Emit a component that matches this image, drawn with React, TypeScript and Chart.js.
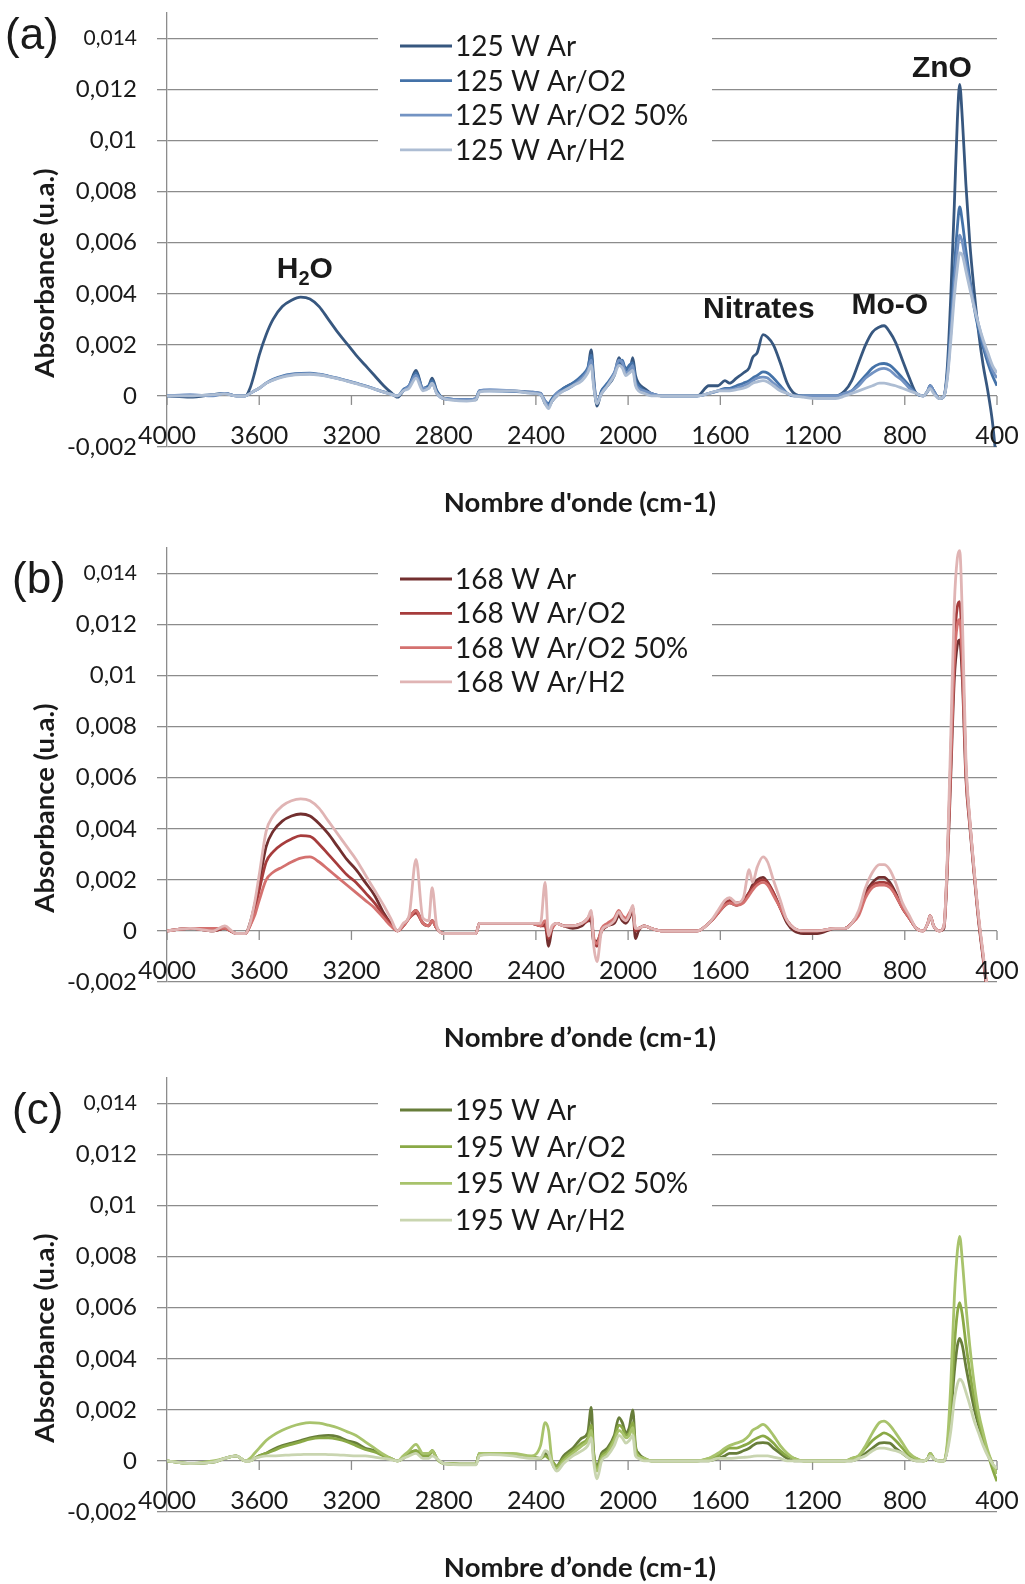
import React, { useEffect, useRef } from "react";
import { Chart, registerables } from "chart.js";

Chart.register(...registerables);

// ---------- data ----------
const WAVENUMBERS = [
  4000, 3900, 3800, 3750, 3700, 3660, 3640, 3620, 3600, 3570,
  3540, 3500, 3460, 3420, 3380, 3340, 3300, 3260, 3220, 3180,
  3140, 3100, 3060, 3030, 3000, 2975, 2950, 2920, 2890, 2865,
  2850, 2830, 2800, 2700, 2660, 2645, 2600, 2500, 2420, 2380,
  2360, 2345, 2330, 2310, 2280, 2240, 2200, 2175, 2160, 2150,
  2135, 2115, 2090, 2060, 2040, 2025, 2010, 1995, 1980, 1968,
  1955, 1930, 1900, 1850, 1780, 1700, 1650, 1610, 1580, 1560,
  1530, 1500, 1475, 1460, 1440, 1415, 1395, 1370, 1340, 1310,
  1280, 1240, 1180, 1100, 1060, 1030, 1000, 970, 940, 910,
  890, 865, 840, 810, 780, 750, 720, 700, 690, 675,
  650, 630, 615, 600, 585, 572, 562, 550, 535, 518,
  500, 480, 460, 440, 420, 400,
];

// (a) 125 W
const A_AR = [
  0, -0.00005, 0.00005, 0.0001, 0, 0, 0.0003, 0.0009, 0.0016, 0.0024,
  0.003, 0.0035, 0.00375, 0.00387, 0.0038, 0.0035, 0.003, 0.0025, 0.00205, 0.0016,
  0.0012, 0.0008, 0.0004, 0.00015, -0.00005, 0.0002, 0.0004, 0.001, 0.0003, 0.0004,
  0.0007, 0.0002, -0.0001, -0.00015, -0.00015, 0.0002, 0.00022, 0.0002, 0.00015, 0.0001,
  -0.0003, -0.0004, -0.0002, 0, 0.0003, 0.0005, 0.0007, 0.001, 0.0018, 0.0008,
  -0.0004, 0.0002, 0.0004, 0.0008, 0.0015, 0.0012, 0.0011, 0.0009, 0.0015, 0.0008,
  0.0005, 0.0003, 0.0001, 0, 0, 0, 0.0004, 0.0004, 0.0006, 0.0005,
  0.0007, 0.0009, 0.0011, 0.0015, 0.0017, 0.0024, 0.0023, 0.002, 0.0013, 0.0005,
  0.0001, 0, 0, 0, 0.0002, 0.0006, 0.0013, 0.002, 0.0025, 0.0027,
  0.00275, 0.0025, 0.0021, 0.0014, 0.0007, 0.0001, 0, 0.0002, 0.0004, 0.0002,
  -0.0001, 0, 0.0012, 0.004, 0.0075, 0.0108, 0.0122, 0.0108, 0.0083, 0.006,
  0.0042, 0.0025, 0.0012, 0.0002, -0.001, -0.0028,
];
const A_O2 = [
  0, 0, 0.00005, 0.0001, 0, 0, 0.0001, 0.0002, 0.0003, 0.0005,
  0.00065, 0.00078, 0.00085, 0.00088, 0.00089, 0.00085, 0.00078, 0.0007, 0.0006, 0.0005,
  0.0004, 0.00028, 0.00016, 0.00008, 0, 0.00025, 0.0004, 0.0009, 0.0003, 0.0004,
  0.0006, 0.0002, -0.0001, -0.00015, -0.0001, 0.0002, 0.0002, 0.00018, 0.00012, 0.00005,
  -0.0002, -0.0003, -0.0001, 0.0001, 0.0003, 0.0005, 0.0008, 0.0011, 0.0016, 0.0005,
  -0.0003, 0.0002, 0.0005, 0.0009, 0.0013, 0.0014, 0.001, 0.0012, 0.0013, 0.0006,
  0.0004, 0.0002, 0.0001, 0, 0, 0, 0.0001, 0.0002, 0.0003, 0.0003,
  0.0004, 0.0005, 0.0006, 0.0007, 0.0008, 0.00094, 0.0009, 0.0007, 0.0004, 0.0001,
  0, 0, 0, 0, 0.0001, 0.0002, 0.0005, 0.0008, 0.0011, 0.00125,
  0.00127, 0.0012, 0.001, 0.0007, 0.0004, 0.0001, 0, 0.0002, 0.0004, 0.0002,
  -0.0001, 0, 0.0009, 0.0028, 0.005, 0.0066, 0.0074, 0.0068, 0.0057, 0.0046,
  0.0035, 0.0026, 0.0019, 0.0013, 0.0008, 0.0004,
];
const A_O2_50 = [
  0, 0.00005, 0, 0.0001, 0, 0, 0.0001, 0.0002, 0.0003, 0.0005,
  0.00063, 0.00076, 0.00083, 0.00086, 0.00087, 0.00084, 0.00077, 0.00069, 0.00059, 0.00049,
  0.00039, 0.00027, 0.00015, 0.00007, 0, 0.0002, 0.0004, 0.0008, 0.0003, 0.0003,
  0.0005, 0.0001, -0.0001, -0.00015, -0.0001, 0.0002, 0.00025, 0.0002, 0.00015, 0.0001,
  -0.0002, -0.0004, -0.0002, 0.0001, 0.0002, 0.0004, 0.0007, 0.001, 0.0014, 0.0006,
  -0.0002, 0.0001, 0.0004, 0.0009, 0.0014, 0.0013, 0.0009, 0.001, 0.0012, 0.0005,
  0.0003, 0.0002, 0.0001, 0, 0, 0, 0.0001, 0.0002, 0.00025, 0.00025,
  0.0003, 0.0004, 0.0005, 0.0006, 0.0007, 0.00074, 0.0007, 0.0005, 0.0003, 0.0001,
  0, 0, 0, 0, 0.0001, 0.0002, 0.0004, 0.0007, 0.0009, 0.00105,
  0.00108, 0.001, 0.0008, 0.0006, 0.0003, 0.0001, 0, 0.0002, 0.0004, 0.0002,
  -0.0001, 0, 0.0008, 0.0025, 0.0044, 0.0057, 0.0063, 0.006, 0.0052, 0.0044,
  0.0036, 0.0028, 0.0021, 0.0015, 0.001, 0.0007,
];
const A_H2 = [
  0, 0, 0.00005, 0.00008, 0, 0, 0.0001, 0.0002, 0.0003, 0.0005,
  0.00062, 0.00074, 0.00081, 0.00084, 0.00085, 0.00082, 0.00076, 0.00068, 0.00058, 0.00048,
  0.00038, 0.00027, 0.00015, 0.00007, 0, 0.0002, 0.0003, 0.0007, 0.0002, 0.0003,
  0.0005, 0.0001, -0.0001, -0.0002, -0.00015, 0.00015, 0.0002, 0.0002, 0.0001, 0.00005,
  -0.0003, -0.0005, -0.0002, 0, 0.0002, 0.0004, 0.0006, 0.0009, 0.0012, 0.0004,
  -0.0003, 0.0001, 0.0004, 0.0008, 0.0012, 0.0011, 0.0008, 0.0009, 0.001, 0.0004,
  0.0002, 0.0001, 0, 0, 0, 0, 0.0001, 0.0002, 0.0002, 0.0002,
  0.00025, 0.0003, 0.0004, 0.0005, 0.00055, 0.0006, 0.00055, 0.0004, 0.0002, 0.0001,
  0, -0.00005, -0.0001, -0.0001, 0, 0.0001, 0.0002, 0.0003, 0.0004, 0.0005,
  0.0005, 0.00045, 0.0004, 0.0003, 0.0002, 0.0001, 0, 0.0002, 0.0003, 0.0001,
  -0.0001, 0, 0.0007, 0.0022, 0.0039, 0.005, 0.0056, 0.0055, 0.0049, 0.0042,
  0.0035, 0.0028, 0.0022, 0.0017, 0.0012, 0.0009,
];

// (b) 168 W
const B_AR = [
  0, 0.0001, 0, 0.0001, -0.0001, -0.0001, 0.0003, 0.001, 0.0019, 0.0033,
  0.0039, 0.0043, 0.0045, 0.00458, 0.0045, 0.0042, 0.0038, 0.0033, 0.0028, 0.0024,
  0.0019, 0.0014, 0.0007, 0.0003, 0, 0.0002, 0.0005, 0.0008, 0.0003, 0.0002,
  0.0004, 0.0001, -0.0001, -0.0001, -0.0001, 0.0003, 0.0003, 0.0003, 0.0003, 0.0002,
  0.0003, -0.0006, 0.0001, 0.0003, 0.0002, 0.0001, 0.0002, 0.0004, 0.0004, -0.0004,
  -0.0004, 0, 0.0002, 0.0003, 0.0006, 0.0004, 0.0003, 0.0005, 0.0008, -0.0003,
  0, 0.0002, 0.0001, 0, 0, 0, 0.0003, 0.0007, 0.001, 0.0011,
  0.001, 0.0012, 0.0015, 0.0018, 0.002, 0.0021, 0.0019, 0.0015, 0.0009, 0.0003,
  0, -0.0001, -0.0001, 0.0001, 0.0001, 0.0003, 0.0007, 0.0015, 0.0019, 0.0021,
  0.0021, 0.0019, 0.0015, 0.0009, 0.0005, 0.0001, 0, 0.0003, 0.0006, 0.0002,
  0, 0.0001, 0.0025, 0.0062, 0.0099, 0.0112, 0.0114, 0.0098, 0.006, 0.0041,
  0.0023, 0.0004, -0.0011, -0.0026, -0.0039, -0.0052,
];
const B_O2 = [
  0, 0.0001, 0, 0.0001, -0.0001, -0.0001, 0.0002, 0.0008, 0.0016, 0.0027,
  0.0031, 0.0034, 0.0036, 0.00373, 0.0037, 0.0034, 0.003, 0.0026, 0.0022, 0.0019,
  0.0015, 0.0011, 0.0006, 0.0003, 0, 0.0002, 0.0005, 0.0007, 0.0003, 0.0002,
  0.0004, 0.0001, -0.0001, -0.0001, -0.0001, 0.0003, 0.0003, 0.0003, 0.0003, 0.0002,
  0.0002, -0.0003, 0.0001, 0.0003, 0.0002, 0.0002, 0.0003, 0.0004, 0.0006, -0.0003,
  -0.0006, 0, 0.0002, 0.0004, 0.0007, 0.0005, 0.0004, 0.0006, 0.0009, 0,
  0.0001, 0.0002, 0.0001, 0, 0, 0, 0.0003, 0.0007, 0.0011, 0.0012,
  0.0011, 0.0012, 0.0015, 0.0017, 0.0019, 0.002, 0.0019, 0.0015, 0.0009, 0.0004,
  0.0001, 0, 0, 0.0001, 0.0001, 0.0003, 0.0007, 0.0014, 0.0018, 0.0019,
  0.0019, 0.0018, 0.0014, 0.0009, 0.0005, 0.0001, 0, 0.0003, 0.0006, 0.0002,
  0, 0.0002, 0.0028, 0.007, 0.0112, 0.0127, 0.0129, 0.0109, 0.0064, 0.0043,
  0.0024, 0.0005, -0.001, -0.0025, -0.0038, -0.0051,
];
const B_O2_50 = [
  0, 0.0001, 0.0001, 0.0001, -0.0001, -0.0001, 0.0002, 0.0006, 0.0012, 0.002,
  0.0023, 0.0025, 0.0027, 0.00285, 0.0029, 0.0027, 0.0024, 0.0021, 0.0018, 0.0015,
  0.0012, 0.0009, 0.0005, 0.0002, 0, 0.0002, 0.0005, 0.0008, 0.0003, 0.0002,
  0.0004, 0.0001, -0.0001, -0.0001, -0.0001, 0.0003, 0.0003, 0.0003, 0.0003, 0.0002,
  0.0004, -0.0001, 0.0001, 0.0003, 0.0002, 0.0002, 0.0003, 0.0005, 0.0007, -0.0002,
  -0.0005, 0.0001, 0.0003, 0.0005, 0.0008, 0.0006, 0.0005, 0.0007, 0.0009, 0.0001,
  0.0001, 0.0002, 0.0001, 0, 0, 0, 0.0003, 0.0007, 0.001, 0.0011,
  0.001, 0.0011, 0.0014, 0.0016, 0.0018, 0.0019, 0.0018, 0.0014, 0.0009, 0.0004,
  0.0001, 0, 0, 0.0001, 0.0001, 0.0003, 0.0006, 0.0013, 0.0017, 0.0018,
  0.0018, 0.0017, 0.0014, 0.0009, 0.0005, 0.0001, 0, 0.0003, 0.0006, 0.0002,
  0, 0.0002, 0.0027, 0.0066, 0.0106, 0.012, 0.0122, 0.0104, 0.0062, 0.0042,
  0.0024, 0.0005, -0.001, -0.0025, -0.0038, -0.0051,
];
const B_H2 = [
  0, 0.0001, 0, 0.0002, -0.0001, -0.0001, 0.0003, 0.0011, 0.0022, 0.0039,
  0.0045, 0.0049, 0.0051, 0.00517, 0.0051, 0.0048, 0.0043, 0.0038, 0.0033, 0.0028,
  0.0022, 0.0016, 0.001, 0.0005, 0, 0.0003, 0.0006, 0.0028, 0.0005, 0.0004,
  0.0017, 0.0002, -0.0001, -0.0001, -0.0001, 0.0003, 0.0003, 0.0003, 0.0003, 0.0003,
  0.0019, -0.0002, 0.0002, 0.0003, 0.0002, 0.0002, 0.0003, 0.0005, 0.0008, -0.0005,
  -0.0012, 0, 0.0002, 0.0004, 0.00075, 0.0005, 0.0004, 0.0006, 0.001, 0.0001,
  0.0001, 0.0002, 0.0001, 0, 0, 0, 0.0003, 0.0008, 0.0012, 0.0013,
  0.0011, 0.0013, 0.0024, 0.0019, 0.0025, 0.0029, 0.0027, 0.002, 0.0012, 0.0004,
  0.0001, 0, 0, 0.0001, 0.0001, 0.0003, 0.0008, 0.0017, 0.0023, 0.0026,
  0.0026, 0.0024, 0.0019, 0.0011, 0.0006, 0.0001, 0, 0.0003, 0.0006, 0.0002,
  0, 0.0002, 0.003, 0.0078, 0.0128, 0.0146, 0.0149, 0.0122, 0.0068, 0.0044,
  0.0025, 0.0006, -0.0009, -0.0024, -0.0037, -0.005,
];

// (c) 195 W
const C_AR = [
  0, -0.0001, -0.00005, 0.0001, 0.0002, 0, 0, 0.0001, 0.0002, 0.0003,
  0.00045, 0.0006, 0.0007, 0.0008, 0.0009, 0.00097, 0.001, 0.00095, 0.0008, 0.0007,
  0.0005, 0.0004, 0.0002, 0.0001, 0, 0.0001, 0.0003, 0.0004, 0.0002, 0.0002,
  0.0004, 0.0001, -0.0001, -0.00013, -0.00013, 0.0003, 0.0003, 0.00025, 0.00015, 0.0001,
  0.0003, 0.0002, 0, -0.0002, 0.0002, 0.0005, 0.0009, 0.0011, 0.0021, 0.0004,
  -0.0002, 0.0003, 0.0005, 0.001, 0.0017, 0.0015, 0.0011, 0.0013, 0.002, 0.0006,
  0.0003, 0.0001, 0, 0, 0, 0, 0, 0.0001, 0.0002, 0.0003,
  0.0003, 0.0004, 0.0005, 0.0006, 0.0007, 0.00072, 0.0007, 0.0005, 0.0003, 0.0001,
  0, 0, 0, 0, 0, 0, 0.0001, 0.0003, 0.0005, 0.0007,
  0.00072, 0.0007, 0.0005, 0.0003, 0.0001, 0, 0, 0.0001, 0.0003, 0.0001,
  0, 0, 0.0005, 0.0018, 0.0035, 0.0045, 0.0048, 0.0045, 0.0037, 0.0029,
  0.0021, 0.0014, 0.0008, 0.0003, -0.0001, -0.0005,
];
const C_O2 = [
  0, -0.0001, -0.00005, 0.0001, 0.0002, 0, 0, 0.0001, 0.0002, 0.0003,
  0.0004, 0.00055, 0.00065, 0.00075, 0.00085, 0.0009, 0.0009, 0.00085, 0.00075, 0.0006,
  0.00045, 0.00035, 0.0002, 0.0001, 0, 0.0001, 0.0003, 0.0004, 0.0002, 0.0002,
  0.0004, 0.0001, -0.0001, -0.00013, -0.00013, 0.0003, 0.0003, 0.00025, 0.00015, 0.0001,
  0.0002, 0.0001, 0, -0.0002, 0.0001, 0.0004, 0.0007, 0.0009, 0.0014, 0.0003,
  -0.0003, 0.0002, 0.0004, 0.0009, 0.0014, 0.0013, 0.001, 0.0011, 0.0015, 0.0005,
  0.0002, 0.0001, 0, 0, 0, 0, 0.0001, 0.0002, 0.0004, 0.0005,
  0.0005, 0.0006, 0.0007, 0.0008, 0.0009, 0.00098, 0.0009, 0.0007, 0.0004, 0.0002,
  0.0001, 0, 0, 0, 0, 0.0001, 0.0002, 0.0005, 0.0008, 0.001,
  0.0011, 0.001, 0.0008, 0.0005, 0.0002, 0.0001, 0, 0.0001, 0.0003, 0.0001,
  0, 0, 0.0006, 0.0022, 0.0045, 0.0058, 0.0062, 0.0057, 0.0046, 0.0035,
  0.0025, 0.0016, 0.0009, 0.0003, -0.0003, -0.0008,
];
const C_O2_50 = [
  0, -0.0001, 0, 0.0001, 0.0002, 0, 0.0001, 0.0003, 0.0005, 0.0008,
  0.001, 0.0012, 0.00135, 0.00145, 0.0015, 0.00148, 0.0014, 0.0013, 0.00115, 0.001,
  0.00075, 0.0005, 0.00025, 0.0001, 0, 0.0002, 0.0004, 0.00065, 0.0003, 0.0003,
  0.0004, 0.0001, -0.0001, -0.00013, -0.00013, 0.0003, 0.0003, 0.0003, 0.0002, 0.0006,
  0.0015, 0.0012, 0, -0.0003, 0, 0.0003, 0.0006, 0.0008, 0.0012, 0.0002,
  -0.0004, 0.0001, 0.0003, 0.0008, 0.0012, 0.0011, 0.0009, 0.001, 0.0013, 0.0004,
  0.0002, 0.0001, 0, 0, 0, 0, 0.0001, 0.0003, 0.0005, 0.0006,
  0.0007, 0.0008, 0.001, 0.0012, 0.0013, 0.00143, 0.0013, 0.001, 0.0006, 0.0003,
  0.0001, 0, 0, 0, 0, 0.0001, 0.0002, 0.0006, 0.0011, 0.0015,
  0.00156, 0.0014, 0.0011, 0.0007, 0.0003, 0.0001, 0, 0.0001, 0.0003, 0.0001,
  0, 0, 0.0008, 0.0031, 0.0064, 0.0082, 0.0088, 0.0078, 0.0061, 0.0045,
  0.0031, 0.0019, 0.0011, 0.0004, -0.0001, -0.0005,
];
const C_H2 = [
  0, -0.0001, -0.00005, 0.0001, 0.0002, 0, 0, 0.0001, 0.00015, 0.0002,
  0.0002, 0.00022, 0.00024, 0.00025, 0.00026, 0.00026, 0.00025, 0.00024, 0.00022, 0.0002,
  0.0002, 0.00015, 0.0001, 0.00005, 0, 0.0001, 0.0002, 0.0003, 0.0001, 0.0001,
  0.0002, 0.0001, -0.0001, -0.00015, -0.00015, 0.0002, 0.00025, 0.0002, 0.0001, 0.0001,
  0.0004, 0.0003, -0.0001, -0.0004, -0.0001, 0.0002, 0.0004, 0.0006, 0.0009, 0,
  -0.0007, 0, 0.0002, 0.0006, 0.001, 0.0009, 0.0007, 0.0008, 0.001, 0.0002,
  0.0001, 0, 0, 0, 0, 0, 0, 0.0001, 0.0001, 0.0001,
  0.00012, 0.00014, 0.00016, 0.00018, 0.0002, 0.0002, 0.0002, 0.00015, 0.0001, 0,
  0, 0, 0, 0, 0, 0, 0.0001, 0.0002, 0.0004, 0.0005,
  0.0005, 0.00045, 0.0004, 0.0003, 0.0001, 0, 0, 0.0001, 0.0002, 0.0001,
  0, 0, 0.0004, 0.0012, 0.0024, 0.003, 0.0032, 0.0031, 0.0027, 0.0022,
  0.0016, 0.0011, 0.0006, 0.0002, -0.0001, -0.0003,
];

const X_TICKS = [4000, 3600, 3200, 2800, 2400, 2000, 1600, 1200, 800, 400];
const X_TICK_LABELS = ["4000", "3600", "3200", "2800", "2400", "2000", "1600", "1200", "800", "400"];
const Y_TICKS = [-0.002, 0, 0.002, 0.004, 0.006, 0.008, 0.01, 0.012, 0.014];
const Y_TICK_LABELS = ["-0,002", "0", "0,002", "0,004", "0,006", "0,008", "0,01", "0,012", "0,014"];

const LABELS_A = ["125 W Ar", "125 W Ar/O2", "125 W Ar/O2 50%", "125 W Ar/H2"];
const LABELS_B = ["168 W Ar", "168 W Ar/O2", "168 W Ar/O2 50%", "168 W Ar/H2"];
const LABELS_C = ["195 W Ar", "195 W Ar/O2", "195 W Ar/O2 50%", "195 W Ar/H2"];

const Y_TITLE = "Absorbance (u.a.)";
const X_TITLE_A = "Nombre d'onde (cm-1)";
const X_TITLE_BC = "Nombre d\u2019onde (cm-1)";

// ---------- styles ----------
const COLORS_A = ["#37577f", "#4472a8", "#7393c3", "#adbdd3"];
const COLORS_B = ["#722f2f", "#a63c3c", "#d4716f", "#e0b4b4"];
const COLORS_C = ["#677d3a", "#8aa946", "#a8c36c", "#c9d5b0"];

const GRID = "#8c8c8c";
const TEXT = "#1a1a1a";
const CANVAS_W = 1025;
const CANVAS_H = 519;

type Part = { text: string; sub?: boolean };
type Note = { x: number; y: number; parts: Part[] };

const NOTES_A: Note[] = [
  { x: 3402, y: 0.00461, parts: [{ text: "H" }, { text: "2", sub: true }, { text: "O" }] },
  { x: 1433, y: 0.00307, parts: [{ text: "Nitrates" }] },
  { x: 865, y: 0.00322, parts: [{ text: "Mo-O" }] },
  { x: 639, y: 0.01248, parts: [{ text: "ZnO" }] },
];

type PanelProps = {
  top: number;
  labels: string[];
  colors: string[];
  series: number[][];
  letter: string;
  letterX: number;
  letterBaseline: number;
  legendY: number;
  legendDy: number;
  xTitle: string;
  notes: Note[];
};

function Panel(props: PanelProps) {
  const ref = useRef<HTMLCanvasElement | null>(null);

  useEffect(() => {
    const canvas = ref.current;
    if (!canvas) return;
    const { labels, colors, series, letter, letterX, letterBaseline, legendY, legendDy, xTitle, notes } = props;

    const decor = {
      id: "decor",
      beforeDatasetsDraw(chart: any) {
        const { ctx } = chart;
        const xs = chart.scales.x;
        const ys = chart.scales.y;
        const y0 = ys.getPixelForValue(0);
        ctx.save();
        // tick marks on the zero line
        ctx.strokeStyle = GRID;
        ctx.lineWidth = 1.3;
        X_TICKS.forEach((v) => {
          const px = xs.getPixelForValue(v);
          ctx.beginPath();
          ctx.moveTo(px, y0);
          ctx.lineTo(px, y0 + 9);
          ctx.stroke();
        });
        // legend
        ctx.fillStyle = "#ffffff";
        ctx.fillRect(378, legendY - 22, 334, legendDy * 3 + 44);
        ctx.font = "28px Lato";
        ctx.textBaseline = "middle";
        ctx.textAlign = "left";
        labels.forEach((lab, i) => {
          const y = legendY + i * legendDy;
          ctx.strokeStyle = colors[i];
          ctx.lineWidth = 2.8;
          ctx.beginPath();
          ctx.moveTo(400, y);
          ctx.lineTo(452, y);
          ctx.stroke();
          ctx.fillStyle = TEXT;
          ctx.fillText(lab, 455, y + 1);
        });
        ctx.restore();
      },
      afterDraw(chart: any) {
        const { ctx, chartArea } = chart;
        const xs = chart.scales.x;
        const ys = chart.scales.y;
        const y0 = ys.getPixelForValue(0);
        ctx.save();
        ctx.fillStyle = TEXT;
        // x tick labels (below the zero line)
        ctx.font = "25px Lato";
        ctx.textAlign = "center";
        ctx.textBaseline = "middle";
        X_TICKS.forEach((v, i) => {
          ctx.fillText(X_TICK_LABELS[i], xs.getPixelForValue(v), y0 + 40);
        });
        // x title
        ctx.font = "bold 27.5px Lato";
        ctx.fillText(xTitle, (chartArea.left + chartArea.right) / 2 - 2, chartArea.bottom + 56);
        // y title
        ctx.save();
        ctx.translate(45, 273);
        ctx.rotate(-Math.PI / 2);
        ctx.fillText(Y_TITLE, 0, 0);
        ctx.restore();
        // panel letter
        ctx.font = "44px 'Liberation Sans'";
        ctx.textAlign = "left";
        ctx.textBaseline = "alphabetic";
        ctx.fillText(letter, letterX, letterBaseline);
        // annotations
        for (const n of notes) {
          const big = "bold 30px 'Liberation Sans'";
          const small = "bold 20px 'Liberation Sans'";
          let total = 0;
          for (const p of n.parts) {
            ctx.font = p.sub ? small : big;
            total += ctx.measureText(p.text).width;
          }
          let x = xs.getPixelForValue(n.x) - total / 2;
          const y = ys.getPixelForValue(n.y);
          for (const p of n.parts) {
            ctx.font = p.sub ? small : big;
            ctx.fillText(p.text, x, p.sub ? y + 7 : y);
            x += ctx.measureText(p.text).width;
          }
        }
        ctx.restore();
      },
    };

    const chart = new Chart(canvas, {
      type: "line",
      data: {
        datasets: series.map((s, i) => ({
          label: labels[i],
          data: WAVENUMBERS.map((w, j) => ({ x: w, y: s[j] })),
          borderColor: colors[i],
          backgroundColor: colors[i],
          borderWidth: 2.8,
          pointRadius: 0,
          fill: false,
          cubicInterpolationMode: "monotone",
          order: 3 - i,
        })),
      },
      options: {
        responsive: false,
        animation: false,
        devicePixelRatio: 1,
        events: [],
        layout: { padding: { top: 13, right: 28, left: 0, bottom: 0 } },
        plugins: {
          legend: { display: false },
          tooltip: { enabled: false },
          title: { display: false },
        },
        scales: {
          x: {
            type: "linear",
            min: 400,
            max: 4000,
            reverse: true,
            afterBuildTicks: (s: any) => {
              s.ticks = X_TICKS.map((v) => ({ value: v }));
            },
            afterFit: (s: any) => {
              s.height = CANVAS_H - 13 - 434;
              s.paddingLeft = 0;
              s.paddingRight = 0;
            },
            grid: { display: false, drawTicks: false },
            border: { display: false },
            ticks: { display: false },
          },
          y: {
            type: "linear",
            min: -0.002,
            max: 0.015,
            afterBuildTicks: (s: any) => {
              s.ticks = Y_TICKS.map((v) => ({ value: v }));
            },
            afterFit: (s: any) => {
              s.width = 167;
              s.paddingTop = 0;
              s.paddingBottom = 0;
            },
            grid: { color: GRID, lineWidth: 1.3, tickLength: 10, drawTicks: true },
            border: { display: true, color: GRID, width: 1.3 },
            ticks: {
              padding: 20,
              color: TEXT,
              font: (ctx: any) => ({
                family: "Lato",
                size: ctx.tick && ctx.tick.value > 0.0135 ? 21 : 24,
              }),
              callback: (_v: any, i: number) => Y_TICK_LABELS[i],
            },
          },
        },
      },
      plugins: [decor],
    } as any);

    return () => chart.destroy();
  }, []);

  return (
    <canvas
      ref={ref}
      width={CANVAS_W}
      height={CANVAS_H}
      style={{ position: "absolute", left: 0, top: props.top, width: CANVAS_W, height: CANVAS_H }}
    />
  );
}

export default function App() {
  return (
    <div
      style={{
        position: "absolute",
        left: 0,
        top: 0,
        width: 1025,
        height: 1584,
        overflow: "hidden",
        background: "#ffffff",
      }}
    >
      <Panel
        top={0}
        labels={LABELS_A}
        colors={COLORS_A}
        series={[A_AR, A_O2, A_O2_50, A_H2]}
        letter="(a)"
        letterX={5}
        letterBaseline={49}
        legendY={46}
        legendDy={34.6}
        xTitle={X_TITLE_A}
        notes={NOTES_A}
      />
      <Panel
        top={535}
        labels={LABELS_B}
        colors={COLORS_B}
        series={[B_AR, B_O2, B_O2_50, B_H2]}
        letter="(b)"
        letterX={12}
        letterBaseline={58}
        legendY={44}
        legendDy={34.3}
        xTitle={X_TITLE_BC}
        notes={[]}
      />
      <Panel
        top={1065}
        labels={LABELS_C}
        colors={COLORS_C}
        series={[C_AR, C_O2, C_O2_50, C_H2]}
        letter="(c)"
        letterX={12}
        letterBaseline={59}
        legendY={45}
        legendDy={36.7}
        xTitle={X_TITLE_BC}
        notes={[]}
      />
    </div>
  );
}
